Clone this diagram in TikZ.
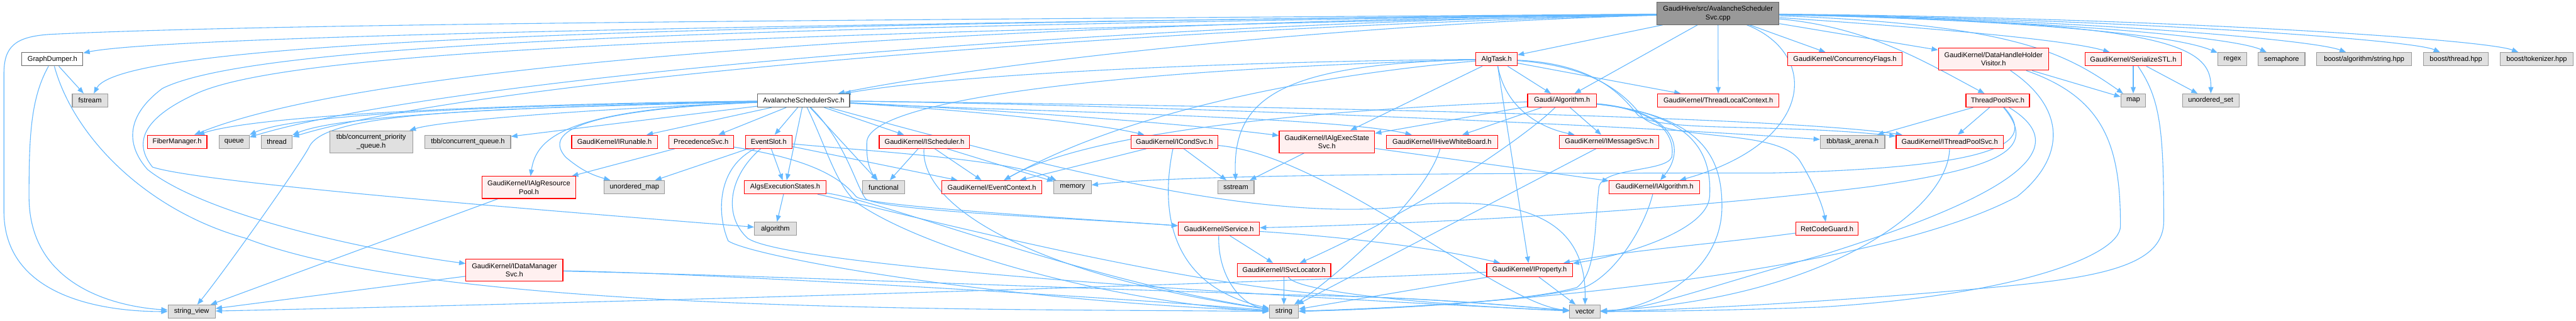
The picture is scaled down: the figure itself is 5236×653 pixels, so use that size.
\documentclass[tikz,border=0pt]{standalone}
\usepackage{fontspec}
\setmainfont{Liberation Sans}
\usetikzlibrary{arrows.meta}
\definecolor{edgec}{HTML}{63B8FF}
\definecolor{redfill}{HTML}{FFF0F0}
\definecolor{redline}{HTML}{FF0000}
\definecolor{grayfill}{HTML}{E0E0E0}
\definecolor{grayline}{HTML}{999999}
\definecolor{mainfill}{HTML}{999999}
\definecolor{darkline}{HTML}{666666}
\pgfdeclarelayer{edgelayer}
\pgfsetlayers{edgelayer,main}
\tikzset{
 nbox/.style={rectangle, inner sep=0pt, minimum height=27pt, line width=1.5pt, align=center, font=\fontsize{14.2}{17}\selectfont, text=black},
 rn/.style={nbox, draw=redline, fill=redfill},
 gn/.style={nbox, draw=grayline, fill=grayfill},
 wn/.style={nbox, draw=darkline, fill=white},
 mn/.style={nbox, draw=darkline, fill=mainfill},
 tall/.style={minimum height=45pt},
 dep/.style={draw=edgec, line width=1.4pt, -{Triangle[length=13pt,width=10pt]}},
}
\begin{document}
\begin{tikzpicture}[x=1pt,y=-1pt]
\useasboundingbox (0,0) rectangle (5236,653);
% nodes
\node[mn, tall, minimum width=248pt] (M) at (3492,27.5) {GaudiHive/src/AvalancheScheduler\\Svc.cpp};
\node[wn, minimum width=187pt] (ASH) at (1633.5,204.5) {AvalancheSchedulerSvc.h};
\node[wn, minimum width=124pt] (GD) at (106.6,120.5) {GraphDumper.h};
\node[gn, minimum width=72pt] (FS) at (183,204.5) {fstream};
\node[rn, minimum width=121pt] (FM) at (360,288.5) {FiberManager.h};
\node[gn, minimum width=61pt] (QU) at (476,288.5) {queue};
\node[gn, minimum width=63pt] (TH) at (562.5,288.5) {thread};
\node[gn, tall, minimum width=169pt] (TCPQ) at (754.5,288.5) {tbb/concurrent\_priority\\\_queue.h};
\node[gn, minimum width=174pt] (TCQ) at (951,288.5) {tbb/concurrent\_queue.h};
\node[rn, minimum width=174pt] (IRUN) at (1249,288.5) {GaudiKernel/IRunable.h};
\node[rn, minimum width=132pt] (PSVC) at (1425,288.5) {PrecedenceSvc.h};
\node[rn, minimum width=95pt] (ES) at (1562.5,288.5) {EventSlot.h};
\node[rn, minimum width=184pt] (ISCH) at (1879,288.5) {GaudiKernel/IScheduler.h};
\node[rn, minimum width=176pt] (ICOND) at (2387,288.5) {GaudiKernel/ICondSvc.h};
\node[rn, tall, minimum width=194pt] (IAES) at (2697,288.5) {GaudiKernel/IAlgExecState\\Svc.h};
\node[rn, minimum width=226pt] (IHWB) at (2931,288.5) {GaudiKernel/IHiveWhiteBoard.h};
\node[rn, minimum width=202pt] (IMSG) at (3271,288.5) {GaudiKernel/IMessageSvc.h};
\node[gn, minimum width=131pt] (TAR) at (3765.5,288.5) {tbb/task\_arena.h};
\node[rn, minimum width=218pt] (ITPS) at (3963,288.5) {GaudiKernel/IThreadPoolSvc.h};
\node[rn, minimum width=84pt] (AT) at (3042,120.5) {AlgTask.h};
\node[rn, minimum width=232pt] (CF) at (3750,120.5) {GaudiKernel/ConcurrencyFlags.h};
\node[rn, tall, minimum width=224pt] (DHHV) at (4052,120.5) {GaudiKernel/DataHandleHolder\\Visitor.h};
\node[rn, minimum width=196pt] (SSTL) at (4336,120.5) {GaudiKernel/SerializeSTL.h};
\node[gn, minimum width=59pt] (RGX) at (4537.5,120.5) {regex};
\node[gn, minimum width=95pt] (SEM) at (4637.5,120.5) {semaphore};
\node[gn, minimum width=193pt] (BAS) at (4805.5,120.5) {boost/algorithm/string.hpp};
\node[gn, minimum width=132pt] (BTH) at (4992,120.5) {boost/thread.hpp};
\node[gn, minimum width=148pt] (BTOK) at (5156,120.5) {boost/tokenizer.hpp};
\node[rn, minimum width=140pt] (GA) at (3175,204.5) {Gaudi/Algorithm.h};
\node[rn, minimum width=247pt] (TLC) at (3492.5,204.5) {GaudiKernel/ThreadLocalContext.h};
\node[rn, minimum width=129pt] (TPS) at (4060.5,204.5) {ThreadPoolSvc.h};
\node[gn, minimum width=50pt] (MAP) at (4336,204.5) {map};
\node[gn, minimum width=115pt] (USET) at (4493.5,204.5) {unordered\_set};
\node[rn, tall, minimum width=190pt] (IARP) at (1075,381.5) {GaudiKernel/IAlgResource\\Pool.h};
\node[gn, minimum width=123pt] (UMAP) at (1289.5,381) {unordered\_map};
\node[rn, minimum width=166pt] (AES) at (1596,381) {AlgsExecutionStates.h};
\node[gn, minimum width=86pt] (FUNC) at (1796,381) {functional};
\node[rn, minimum width=204pt] (EC) at (2016,381) {GaudiKernel/EventContext.h};
\node[gn, minimum width=76pt] (MEM) at (2180,381) {memory};
\node[gn, minimum width=74pt] (SST) at (2512,381) {sstream};
\node[rn, minimum width=184pt] (IALG) at (3363,381) {GaudiKernel/IAlgorithm.h};
\node[gn, minimum width=85pt] (ALGO) at (1576,465.5) {algorithm};
\node[rn, minimum width=165pt] (SVC) at (2477.5,465.5) {GaudiKernel/Service.h};
\node[rn, minimum width=127pt] (RCG) at (3713.5,465.5) {RetCodeGuard.h};
\node[rn, tall, minimum width=197pt] (IDMS) at (1045.5,549.5) {GaudiKernel/IDataManager\\Svc.h};
\node[rn, minimum width=190pt] (ISL) at (2610,549.5) {GaudiKernel/ISvcLocator.h};
\node[rn, minimum width=174pt] (IPROP) at (3109,549.5) {GaudiKernel/IProperty.h};
\node[gn, minimum width=96pt] (SV) at (389.5,634) {string\_view};
\node[gn, minimum width=59pt] (STR) at (2609.5,634) {string};
\node[gn, minimum width=62pt] (VEC) at (3221.5,634) {vector};

\begin{pgfonlayer}{edgelayer}
\fill[white] (0,0) rectangle (5236,653);
% main
\draw[dep] (M) .. controls (1500,50) and (330,75) .. (GD);
\draw[dep] (M) .. controls (1400,50) and (250,80) .. (FS);
\draw[dep] (M) .. controls (2000,40) and (600,45) .. (100,70) .. controls (30,75) and (8,95) .. (8,150) -- (8,430) .. controls (8,600) and (200,634) .. (SV);
\draw[dep] (M) .. controls (2200,45) and (800,110) .. (FM);
\draw[dep] (M) .. controls (2200,50) and (900,160) .. (QU);
\draw[dep] (M) .. controls (2200,60) and (950,170) .. (TH);
\draw[dep] (M) .. controls (1500,55) and (520,85) .. (330,180) .. controls (250,240) and (260,300) .. (300,345) .. controls (420,440) and (750,510) .. (IDMS);
\draw[dep] (M) .. controls (1500,70) and (600,100) .. (400,190) .. controls (290,240) and (270,290) .. (310,340) .. controls (400,370) and (1000,420) .. (ALGO);
\draw[dep] (M) .. controls (2700,50) and (2000,130) .. (ASH);
\draw[dep] (M) -- (AT);
\draw[dep] (M) -- (GA);
\draw[dep] (M) -- (TLC);
\draw[dep] (M) -- (CF);
\draw[dep] (M) -- (DHHV);
\draw[dep] (M) .. controls (3800,55) and (3920,130) .. (TPS);
\draw[dep] (M) .. controls (3900,55) and (4200,80) .. (SSTL);
\draw[dep] (M) .. controls (4100,50) and (4200,110) .. (MAP);
\draw[dep] (M) .. controls (4100,40) and (4420,70) .. (RGX);
\draw[dep] (M) .. controls (4150,40) and (4540,75) .. (SEM);
\draw[dep] (M) .. controls (4200,38) and (4700,80) .. (BAS);
\draw[dep] (M) .. controls (4300,38) and (4900,80) .. (BTH);
\draw[dep] (M) .. controls (4400,36) and (5050,80) .. (BTOK);
\draw[dep] (M) .. controls (4400,45) and (4495,90) .. (USET);
\draw[dep] (M) .. controls (3700,110) and (3690,290) .. (IALG);
% AlgTask
\draw[dep] (AT) .. controls (2500,125) and (1950,150) .. (ASH);
\draw[dep] (AT) -- (GA);
\draw[dep] (AT) -- (IAES);
\draw[dep] (AT) .. controls (3060,220) and (3130,260) .. (IMSG);
\draw[dep] (AT) -- (IPROP);
\draw[dep] (AT) -- (TLC);
\draw[dep] (AT) .. controls (3250,130) and (3300,200) .. (3330,235) .. controls (3380,270) and (3600,250) .. (ITPS);
\draw[dep] (AT) .. controls (3250,135) and (3310,200) .. (3340,240) .. controls (3400,290) and (3620,260) .. (3660,330) .. controls (3690,380) and (3705,420) .. (RCG);
\draw[dep] (AT) .. controls (2300,140) and (1770,200) .. (1762,288) .. controls (1760,330) and (1770,350) .. (FUNC);
\draw[dep] (AT) .. controls (2700,150) and (2300,220) .. (EC);
\draw[dep] (AT) .. controls (2600,130) and (2505,200) .. (SST);
% Gaudi/Algorithm
\draw[dep] (GA) -- (IAES);
\draw[dep] (GA) -- (IHWB);
\draw[dep] (GA) -- (IMSG);
\draw[dep] (GA) .. controls (3110,270) and (2900,420) .. (ISL);
\draw[dep] (GA) .. controls (3400,225) and (3430,300) .. (IALG);
\draw[dep] (GA) .. controls (3440,232) and (3480,310) .. (3475,400) .. controls (3470,470) and (3300,520) .. (IPROP);
\draw[dep] (GA) .. controls (2900,215) and (2250,245) .. (EC);
\draw[dep] (GA) .. controls (3380,225) and (3405,280) .. (3398,320) .. controls (3385,350) and (3260,340) .. (3250,380) .. controls (3240,470) and (3245,555) .. (3205,585) .. controls (3100,615) and (2800,630) .. (STR);
\draw[dep] (GA) .. controls (3460,235) and (3500,320) .. (3500,420) .. controls (3500,560) and (3350,630) .. (VEC);
% IAlgExecStateSvc
\draw[dep] (IAES) -- (SST);
\draw[dep] (IAES) -- (IALG);
% AvalancheSchedulerSvc.h
\draw[dep] (ASH) .. controls (1000,212) and (520,235) .. (FM);
\draw[dep] (ASH) .. controls (1000,215) and (600,232) .. (QU);
\draw[dep] (ASH) .. controls (1000,218) and (680,238) .. (TH);
\draw[dep] (ASH) .. controls (1200,222) and (900,245) .. (TCPQ);
\draw[dep] (ASH) -- (TCQ);
\draw[dep] (ASH) .. controls (1000,222) and (660,225) .. (628,300) .. controls (600,350) and (450,560) .. (SV);
\draw[dep] (ASH) -- (IRUN);
\draw[dep] (ASH) -- (PSVC);
\draw[dep] (ASH) -- (ES);
\draw[dep] (ASH) .. controls (1150,222) and (1090,280) .. (IARP);
\draw[dep] (ASH) .. controls (1150,225) and (1110,275) .. (1150,320) .. controls (1180,345) and (1200,355) .. (UMAP);
\draw[dep] (ASH) -- (AES);
\draw[dep] (ASH) -- (FUNC);
\draw[dep] (ASH) -- (ISCH);
\draw[dep] (ASH) .. controls (1900,220) and (2200,245) .. (ICOND);
\draw[dep] (ASH) .. controls (2000,222) and (2400,250) .. (IAES);
\draw[dep] (ASH) .. controls (2000,225) and (2700,235) .. (IHWB);
\draw[dep] (ASH) .. controls (2400,215) and (3300,255) .. (TAR);
\draw[dep] (ASH) .. controls (2500,215) and (3600,235) .. (ITPS);
\draw[dep] (ASH) .. controls (1720,290) and (1740,380) .. (1760,405) .. controls (1800,430) and (2200,445) .. (SVC);
\draw[dep] (ASH) .. controls (1680,300) and (1700,380) .. (1745,415) .. controls (1900,520) and (2300,620) .. (STR);
\draw[dep] (ASH) .. controls (2200,360) and (2600,460) .. (2900,415) .. controls (3150,400) and (3224,480) .. (VEC);
% PrecedenceSvc
\draw[dep] (PSVC) -- (IARP);
\draw[dep] (PSVC) .. controls (1620,320) and (1700,350) .. (1740,400) .. controls (1760,420) and (2200,445) .. (SVC);
% EventSlot
\draw[dep] (ES) -- (UMAP);
\draw[dep] (ES) -- (AES);
\draw[dep] (ES) -- (EC);
\draw[dep] (ES) .. controls (1800,310) and (2050,325) .. (MEM);
\draw[dep] (ES) .. controls (1460,340) and (1455,430) .. (1480,490) .. controls (1520,520) and (2000,610) .. (STR);
\draw[dep] (ES) .. controls (1480,360) and (1470,440) .. (1520,485) .. controls (1600,540) and (2500,600) .. (VEC);
% IScheduler
\draw[dep] (ISCH) -- (FUNC);
\draw[dep] (ISCH) -- (EC);
\draw[dep] (ISCH) -- (MEM);
\draw[dep] (ISCH) .. controls (1870,420) and (2100,560) .. (STR);
% ICondSvc
\draw[dep] (ICOND) -- (EC);
\draw[dep] (ICOND) -- (SST);
\draw[dep] (ICOND) .. controls (2360,420) and (2370,580) .. (STR);
\draw[dep] (ICOND) .. controls (2700,315) and (3050,620) .. (VEC);
% Service
\draw[dep] (SVC) -- (ISL);
\draw[dep] (SVC) .. controls (2475,560) and (2520,620) .. (STR);
\draw[dep] (SVC) .. controls (2700,480) and (2900,500) .. (IPROP);
% ISvcLocator
\draw[dep] (ISL) -- (STR);
\draw[dep] (ISL) .. controls (2640,600) and (3000,625) .. (VEC);
% IProperty
\draw[dep] (IPROP) .. controls (2700,570) and (1500,610) .. (SV);
\draw[dep] (IPROP) -- (STR);
\draw[dep] (IPROP) -- (VEC);
% IAlgorithm, IMessageSvc, IHiveWhiteBoard
\draw[dep] (IALG) .. controls (3340,470) and (3280,560) .. (3220,585) .. controls (3100,615) and (2800,628) .. (STR);
\draw[dep] (IMSG) -- (STR);
\draw[dep] (IHWB) .. controls (2900,400) and (2720,560) .. (STR);
% AlgsExecutionStates
\draw[dep] (AES) -- (ALGO);
\draw[dep] (AES) .. controls (1800,410) and (2200,570) .. (STR);
\draw[dep] (AES) .. controls (1800,425) and (2400,585) .. (2750,603) .. controls (2950,610) and (3100,625) .. (VEC);
% IDataManagerSvc
\draw[dep] (IDMS) -- (SV);
\draw[dep] (IDMS) .. controls (1400,555) and (2200,600) .. (STR);
\draw[dep] (IDMS) .. controls (1600,562) and (2300,592) .. (2700,602) .. controls (2950,608) and (3100,625) .. (VEC);
% IAlgResourcePool
\draw[dep] (IARP) -- (SV);
% GraphDumper
\draw[dep] (GD) -- (FS);
\draw[dep] (GD) .. controls (62,200) and (59,280) .. (59,400) .. controls (59,590) and (250,625) .. (SV);
\draw[dep] (GD) .. controls (150,280) and (300,430) .. (500,485) .. controls (900,640) and (2000,628) .. (STR);
% ThreadPoolSvc
\draw[dep] (TPS) -- (TAR);
\draw[dep] (TPS) -- (ITPS);
\draw[dep] (TPS) .. controls (4130,280) and (4110,340) .. (3600,352) .. controls (3000,352) and (2400,355) .. (MEM);
\draw[dep] (TPS) .. controls (4140,300) and (4080,340) .. (3800,380) .. controls (3400,430) and (2900,455) .. (SVC);
\draw[dep] (TPS) .. controls (4200,290) and (4150,380) .. (3700,520) .. controls (3450,590) and (3350,630) .. (VEC);
% DataHandleHolderVisitor
\draw[dep] (DHHV) -- (MAP);
\draw[dep] (DHHV) .. controls (4280,200) and (4310,300) .. (4310,460) .. controls (4310,520) and (4100,600) .. (3700,625) .. controls (3500,632) and (3350,634) .. (VEC);
\draw[dep] (DHHV) .. controls (4200,220) and (4200,320) .. (4100,400) .. controls (3800,560) and (3000,625) .. (STR);
% SerializeSTL
\draw[dep] (SSTL) -- (MAP);
\draw[dep] (SSTL) -- (USET);
\draw[dep] (SSTL) .. controls (4390,200) and (4398,260) .. (4398,450) .. controls (4398,530) and (4300,560) .. (4100,580) .. controls (3800,610) and (3400,632) .. (VEC);
% RetCodeGuard, IThreadPoolSvc
\draw[dep] (RCG) .. controls (3500,495) and (3300,510) .. (IPROP);
\draw[dep] (ITPS) .. controls (3960,430) and (3700,610) .. (VEC);
\end{pgfonlayer}
\end{tikzpicture}
\end{document}
